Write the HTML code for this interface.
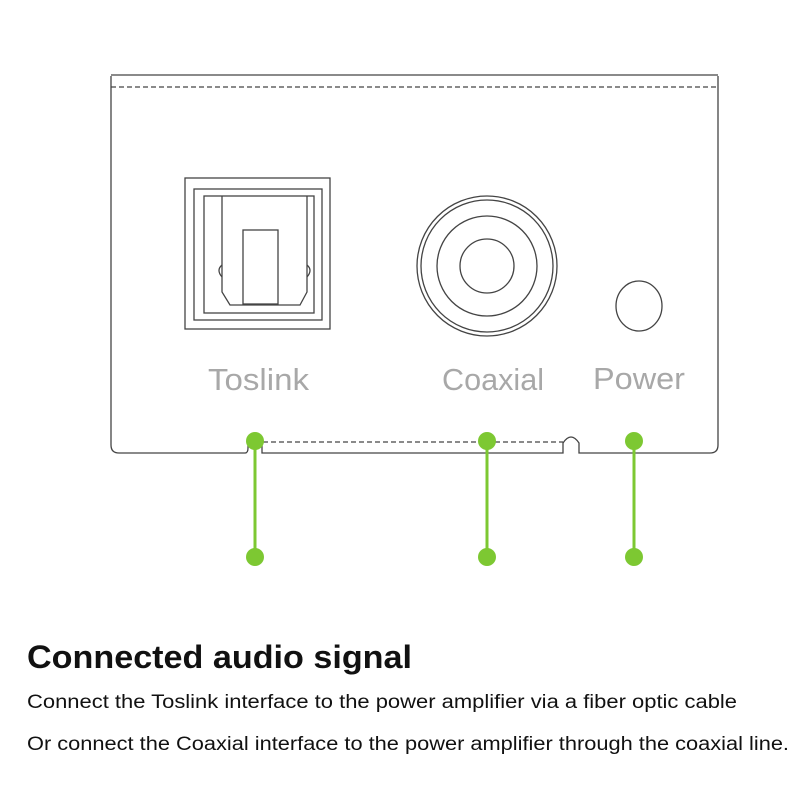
<!DOCTYPE html>
<html><head><meta charset="utf-8"><style>
html,body{margin:0;padding:0;background:#fff;}
svg{display:block;}
</style></head><body>
<svg width="800" height="800" viewBox="0 0 800 800" xmlns="http://www.w3.org/2000/svg">
<g fill="none" stroke="#444" stroke-width="1.3">
<path d="M111 76 L111 445 Q111 453 119 453 L245 453 Q248 453 248 448 L248 443 M262 443 L262 453 L563 453 L563 443 Q571 431 579 443 L579 453 L710 453 Q718 453 718 445 L718 76"/>
<line x1="111" y1="75" x2="718" y2="75"/>
<line x1="111" y1="87" x2="718" y2="87" stroke-dasharray="5,3"/>
<line x1="263" y1="442" x2="563" y2="442" stroke-dasharray="5,3"/>
<rect x="185" y="178" width="145" height="151"/>
<rect x="194" y="189" width="128" height="131"/>
<rect x="204" y="196" width="110" height="117"/>
<path d="M222 196 L222 292 L230 305 L300 305 L307 292 L307 196"/>
<rect x="243" y="230" width="35" height="74"/>
<path d="M222 265 Q216 270 222 277 M307 265 Q313 270 307 277"/>
<circle cx="487" cy="266" r="70"/>
<circle cx="487" cy="266" r="66"/>
<circle cx="487" cy="266" r="50"/>
<circle cx="487" cy="266" r="27"/>
<ellipse cx="639" cy="306" rx="23" ry="25"/>
</g>
<g font-family="Liberation Sans, sans-serif" font-size="31" fill="#a8a8a8">
<text x="208" y="390" textLength="101" lengthAdjust="spacingAndGlyphs">Toslink</text>
<text x="442" y="390" textLength="102" lengthAdjust="spacingAndGlyphs">Coaxial</text>
<text x="593" y="389" textLength="92" lengthAdjust="spacingAndGlyphs">Power</text>
</g>
<g stroke="#7dc832" stroke-width="3" fill="#7dc832">
<line x1="255" y1="441" x2="255" y2="557"/>
<line x1="487" y1="441" x2="487" y2="557"/>
<line x1="634" y1="441" x2="634" y2="557"/>
<circle cx="255" cy="441" r="9" stroke="none"/>
<circle cx="487" cy="441" r="9" stroke="none"/>
<circle cx="634" cy="441" r="9" stroke="none"/>
<circle cx="255" cy="557" r="9" stroke="none"/>
<circle cx="487" cy="557" r="9" stroke="none"/>
<circle cx="634" cy="557" r="9" stroke="none"/>
</g>
<g font-family="Liberation Sans, sans-serif" fill="#111">
<text x="27" y="668" font-size="32" font-weight="bold" textLength="385" lengthAdjust="spacingAndGlyphs">Connected audio signal</text>
<text x="27" y="708" font-size="19" textLength="710" lengthAdjust="spacingAndGlyphs">Connect the Toslink interface to the power amplifier via a fiber optic cable</text>
<text x="27" y="750" font-size="19" textLength="762" lengthAdjust="spacingAndGlyphs">Or connect the Coaxial interface to the power amplifier through the coaxial line.</text>
</g>
</svg>
</body></html>
